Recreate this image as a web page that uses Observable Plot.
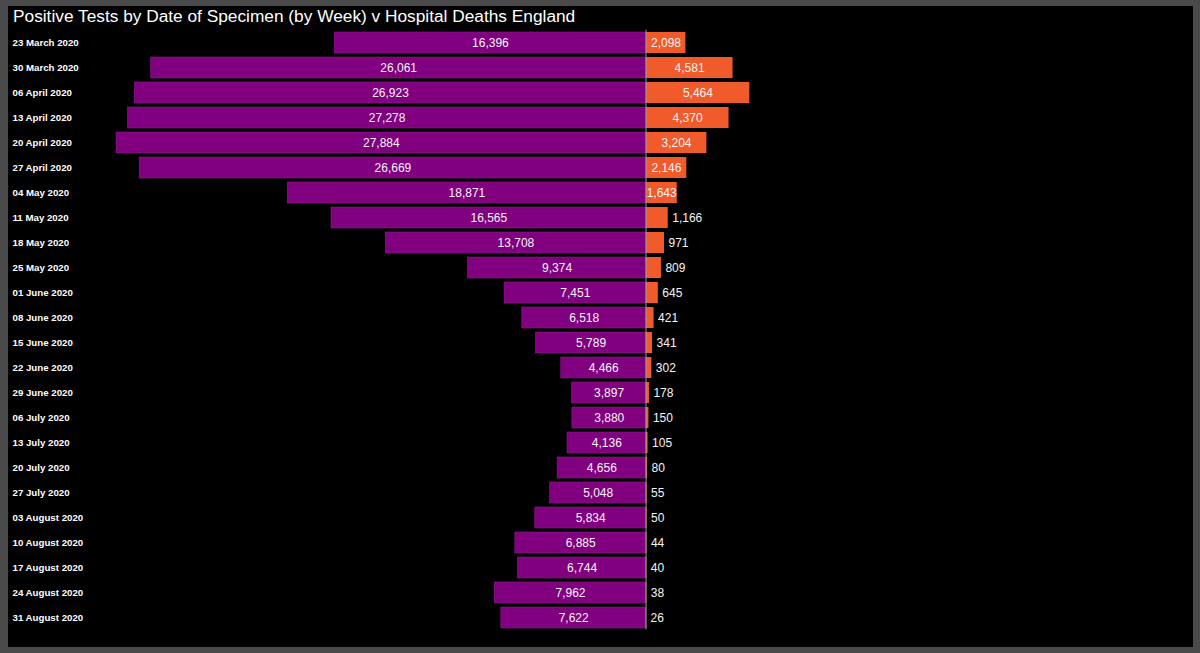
<!DOCTYPE html>
<html><head><meta charset="utf-8">
<script src="https://cdn.jsdelivr.net/npm/d3@7"></script>
<script src="https://cdn.jsdelivr.net/npm/@observablehq/plot@0.6"></script>
<style>
html,body{margin:0;padding:0;background:#000;}
#wrap{position:relative;width:1200px;height:653px;background:#4a4a4a;overflow:hidden;font-family:"Liberation Sans",Arial,sans-serif;}
#inner{position:absolute;left:8px;top:6px;right:7px;bottom:6px;background:#000;}
#title{position:absolute;left:13px;top:6px;color:#fff;font-size:17.3px;white-space:nowrap;z-index:2;}
#chart{position:absolute;left:0;top:0;}
</style></head><body>
<div id="wrap"><div id="inner"></div><div id="title">Positive Tests by Date of Specimen (by Week) v Hospital Deaths England</div><div id="chart"></div></div>
<script>
const weeks = ["23 March 2020","30 March 2020","06 April 2020","13 April 2020","20 April 2020","27 April 2020","04 May 2020","11 May 2020","18 May 2020","25 May 2020","01 June 2020","08 June 2020","15 June 2020","22 June 2020","29 June 2020","06 July 2020","13 July 2020","20 July 2020","27 July 2020","03 August 2020","10 August 2020","17 August 2020","24 August 2020","31 August 2020"];
const positiveTests = [16396,26061,26923,27278,27884,26669,18871,16565,13708,9374,7451,6518,5789,4466,3897,3880,4136,4656,5048,5834,6885,6744,7962,7622];
const hospitalDeaths = [2098,4581,5464,4370,3204,2146,1643,1166,971,809,645,421,341,302,178,150,105,80,55,50,44,40,38,26];

const rows = weeks.map((w, i) => ({week: w, pos: positiveTests[i], deaths: hospitalDeaths[i]}));
const fmt = d3.format(",");
const inside = rows.filter(d => d.deaths >= 1500);
const outside = rows.filter(d => d.deaths < 1500);

const chart = Plot.plot({
  width: 1200,
  height: 653,
  marginLeft: 0,
  marginRight: 0,
  marginTop: 29.5,
  marginBottom: 23.5,
  style: {background: "transparent", color: "white", fontFamily: "'Liberation Sans', Arial, sans-serif"},
  x: {domain: [-34000, 29200], axis: null},
  y: {domain: weeks, paddingInner: 0.16, paddingOuter: 0.08, axis: null},
  marks: [
    Plot.barX(rows, {y: "week", x1: d => -d.pos, x2: 0, fill: "#800080", stroke: "#8e1a8e", strokeWidth: 0.6}),
    Plot.barX(rows, {y: "week", x1: 0, x2: "deaths", fill: "#f15a2b"}),
    Plot.ruleX([0], {stroke: "#9a9a9a", strokeWidth: 1}),
    Plot.text(rows, {y: "week", x: d => -d.pos / 2, text: d => fmt(d.pos), fill: "#f4f4f4", fontSize: 12}),
    Plot.text(inside, {y: "week", x: d => d.deaths / 2, text: d => fmt(d.deaths), fill: "#f4f4f4", fontSize: 12}),
    Plot.text(outside, {y: "week", x: "deaths", dx: 4, textAnchor: "start", text: d => fmt(d.deaths), fill: "#f4f4f4", fontSize: 12}),
    Plot.text(rows, {y: "week", text: "week", frameAnchor: "left", dx: 12, textAnchor: "start", fill: "white", fontWeight: "bold", fontSize: 9.7})
  ]
});
document.getElementById("chart").appendChild(chart);
</script>
</body></html>
